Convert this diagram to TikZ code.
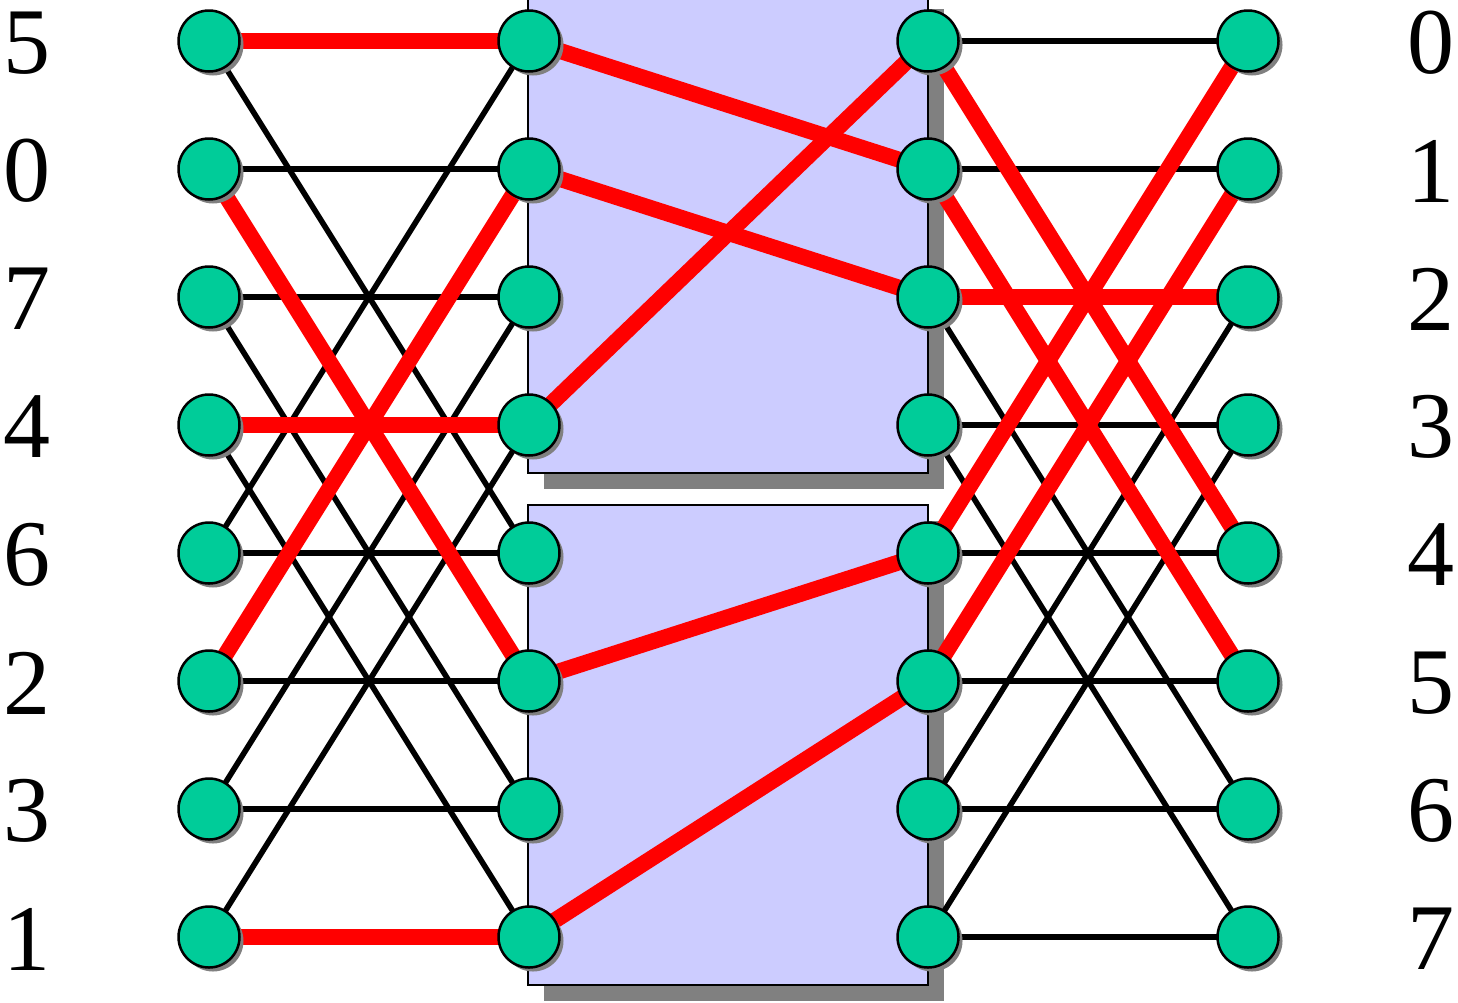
\documentclass[tikz,border=0pt]{standalone}
\usepackage{fontspec}
\setmainfont{Liberation Serif}
\usetikzlibrary{shadows}
\definecolor{nodegreen}{HTML}{00CC99}
\definecolor{boxblue}{HTML}{CCCCFF}
\definecolor{shadowgray}{HTML}{808080}
\pgfdeclarelayer{boxlayer}
\pgfdeclarelayer{linelayer}
\pgfsetlayers{boxlayer,linelayer,main}
\begin{document}
\begin{tikzpicture}[x=1pt,y=-1pt,
  nd/.style={circle,draw=black,line width=2.5pt,fill=nodegreen,minimum size=61pt,inner sep=0pt,
    drop shadow={shadow xshift=4pt,shadow yshift=-4pt,fill=shadowgray,opacity=1}},
  lbl/.style={inner sep=0pt,font=\fontsize{94}{94}\selectfont},
  blackline/.style={line width=5.6pt,black},
  redline/.style={line width=16pt,red},
  box/.style={draw=black,line width=2pt,fill=boxblue,
    drop shadow={shadow xshift=16pt,shadow yshift=-16pt,fill=shadowgray,opacity=1}}]
\useasboundingbox (0,0) rectangle (1458,1002);
\clip (0,0) rectangle (1458,1002);
% nodes
\foreach \i in {0,...,7}{
  \node[nd] (L\i) at (209,41+128*\i) {};
  \node[nd] (A\i) at (529,41+128*\i) {};
  \node[nd] (B\i) at (928,41+128*\i) {};
  \node[nd] (R\i) at (1248,41+128*\i) {};
}
% labels
\foreach \t [count=\k from 0] in {5,0,7,4,6,2,3,1}{
  \node[lbl] (ll\k) at (27,43+128*\k) {\t};
}
\foreach \k in {0,...,7}{
  \node[lbl] (rl\k) at (1431,43+128*\k) {\k};
}
% boxes
\begin{pgfonlayer}{boxlayer}
  \path[box] (528,-7) rectangle (928,473);
  \path[box] (528,505) rectangle (928,985);
\end{pgfonlayer}
% connectors
\begin{pgfonlayer}{linelayer}
  % stage 1 black
  \foreach \a/\b in {1/1,2/2,4/4,5/5,6/6,0/4,4/0,2/6,6/2,3/7,7/3}
    \draw[blackline] (L\a.center) -- (A\b.center);
  % stage 3 black
  \foreach \a/\b in {0/0,1/1,3/3,4/4,5/5,6/6,7/7,2/6,6/2,3/7,7/3}
    \draw[blackline] (B\a.center) -- (R\b.center);
  % stage 1 red
  \foreach \a/\b in {0/0,3/3,7/7,1/5,5/1}
    \draw[redline] (L\a.center) -- (A\b.center);
  % stage 2 red
  \foreach \a/\b in {0/1,1/2,3/0,5/4,7/5}
    \draw[redline] (A\a.center) -- (B\b.center);
  % stage 3 red
  \foreach \a/\b in {2/2,0/4,4/0,1/5,5/1}
    \draw[redline] (B\a.center) -- (R\b.center);
\end{pgfonlayer}
\end{tikzpicture}
\end{document}
